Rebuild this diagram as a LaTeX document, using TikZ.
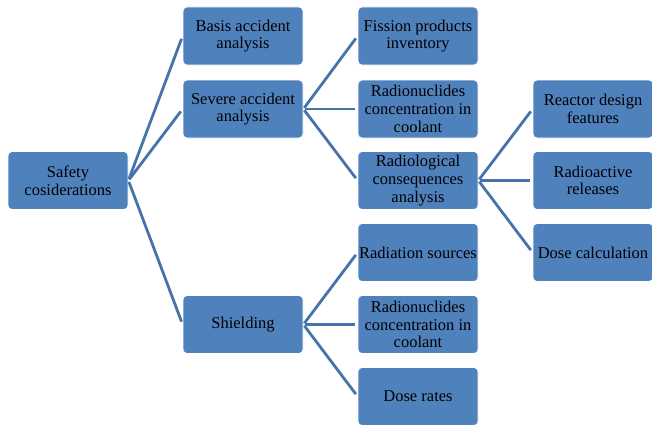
\documentclass[tikz,border=0pt]{standalone}
\usepackage{fontspec}
\setmainfont{Liberation Serif}
\newfontfamily\boxfont{Liberation Serif}
\usepackage{tikz}
\usetikzlibrary{calc}
\definecolor{boxblue}{RGB}{79,129,189}
\definecolor{lineblue}{RGB}{70,115,170}

\begin{document}
\begin{tikzpicture}[
    x=1pt, y=-1pt,
    box/.style={fill=boxblue, draw=white, line width=0.8pt, rounded corners=4pt,
        minimum width=120pt, minimum height=58pt, align=center, inner sep=1pt,
        font=\boxfont\fontsize{16.5}{17.7}\selectfont},
    branch line/.style={line width=2.8pt, color=lineblue, shorten >=3pt, shorten <=1.5pt}
    ]
    \useasboundingbox (0,0) rectangle (652,428);

    % root
    \node[box] (safety) at (68,180.5) {Safety\\cosiderations};
    % first level
    \node[box] (basis) at (243,36) {Basis accident\\analysis};
    \node[box] (severe) at (243,109) {Severe accident\\analysis};
    \node[box] (shield) at (243,324.5) {Shielding};
    % second level
    \node[box] (fission) at (418,36) {Fission products\\inventory};
    \node[box] (conc) at (418,109) {Radionuclides\\concentration in\\coolant};
    \node[box] (conseq) at (418,180.5) {Radiological\\consequences\\analysis};
    \node[box] (sources) at (418,252.5) {Radiation sources};
    \node[box] (concb) at (418,324.5) {Radionuclides\\concentration in\\coolant};
    \node[box] (rates) at (418,396.5) {Dose rates};
    % third level
    \node[box] (design) at (593,109) {Reactor design\\features};
    \node[box] (releases) at (593,180.5) {Radioactive\\releases};
    \node[box] (dose) at (593,252.5) {Dose calculation};

    % branches
    \foreach \a/\b in {safety/basis, safety/severe, safety/shield,
        severe/fission, severe/conc, severe/conseq,
        conseq/design, conseq/releases, conseq/dose,
        shield/sources, shield/concb, shield/rates}
        \draw[branch line] (\a.east) -- (\b.west);
\end{tikzpicture}
\end{document}
